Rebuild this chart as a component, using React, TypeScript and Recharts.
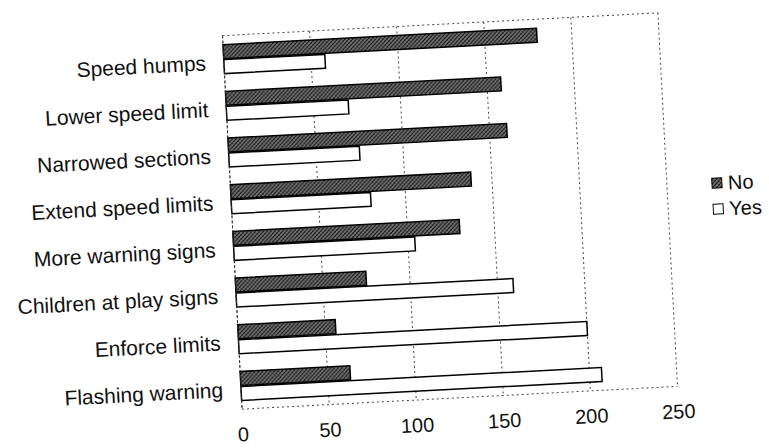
import React from 'react';
import { BarChart, Bar, XAxis, YAxis, CartesianGrid } from 'recharts';

// survey answers per traffic measure
const categories = [
  'Speed humps',
  'Lower speed limit',
  'Narrowed sections',
  'Extend speed limits',
  'More warning signs',
  'Children at play signs',
  'Enforce limits',
  'Flashing warning',
];
const noValues = [180, 158, 160, 138, 130, 75, 56, 63];
const yesValues = [58, 70, 75, 80, 104, 159, 200, 207];
const xTicks = [0, 50, 100, 150, 200, 250];

const data = categories.map((name, i) => ({ name, No: noValues[i], Yes: yesValues[i] }));

const font = '"Liberation Sans", Arial, sans-serif';

function LegendBox() {
  return (
    <div
      style={{
        position: 'absolute',
        left: 712,
        top: 184,
        fontFamily: font,
        fontSize: 20,
        color: '#111',
        lineHeight: '26px',
      }}
    >
      <div style={{ display: 'flex', alignItems: 'center' }}>
        <svg width={12} height={12} style={{ marginRight: 5 }}>
          <rect x={1} y={1} width={10} height={10} fill="url(#hatch)" stroke="#000" />
        </svg>
        No
      </div>
      <div style={{ display: 'flex', alignItems: 'center' }}>
        <svg width={12} height={12} style={{ marginRight: 5 }}>
          <rect x={1} y={1} width={10} height={10} fill="#fff" stroke="#000" />
        </svg>
        Yes
      </div>
    </div>
  );
}

export default function App() {
  return (
    <div style={{ position: 'absolute', left: 0, top: 0, width: 769, height: 448, overflow: 'hidden', background: '#fff' }}>
      <div style={{ position: 'relative', transform: 'rotate(-3deg)', transformOrigin: '450px 211px' }}>
        <BarChart
          width={769}
          height={448}
          data={data}
          layout="vertical"
          margin={{ top: 24, right: 101, bottom: 20, left: 0 }}
          barSize={14}
          barGap={1}
        >
          <defs>
            <pattern id="hatch" width="4" height="4" patternUnits="userSpaceOnUse">
              <rect width="4" height="4" fill="#6e6e6e" />
              <path d="M0,4 L4,0 M-1,1 L1,-1 M3,5 L5,3" stroke="#111" strokeWidth="1" />
              <path d="M0,0 L4,4" stroke="#333" strokeWidth="0.6" />
            </pattern>
          </defs>
          <CartesianGrid
            stroke="#444"
            strokeDasharray="2 3"
            horizontalCoordinatesGenerator={({ offset }: any) => [offset.top, offset.top + offset.height]}
          />
          <XAxis
            type="number"
            domain={[0, 250]}
            ticks={xTicks}
            axisLine={false}
            tickLine={false}
            tickSize={0}
            tickMargin={18}
            height={30}
            tick={{ fontFamily: font, fontSize: 20, fill: '#111' }}
          />
          <YAxis
            type="category"
            dataKey="name"
            width={232}
            axisLine={{ stroke: '#333', strokeDasharray: '3 2' }}
            tickLine={false}
            tickSize={0}
            tickMargin={18}
            tick={{ fontFamily: font, fontSize: 21, fill: '#111', dy: 3 }}
          />
          <Bar dataKey="No" fill="url(#hatch)" stroke="#000" strokeWidth={1.5} isAnimationActive={false} />
          <Bar dataKey="Yes" fill="#fff" stroke="#000" strokeWidth={1.5} isAnimationActive={false} />
        </BarChart>
        <LegendBox />
      </div>
    </div>
  );
}
